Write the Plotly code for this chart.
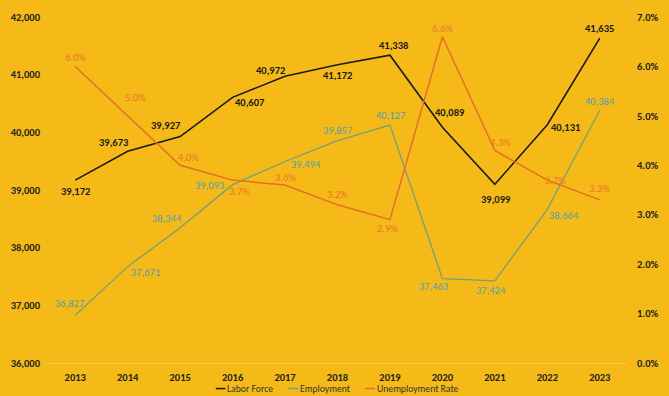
import plotly.graph_objects as go

years = [2013, 2014, 2015, 2016, 2017, 2018, 2019, 2020, 2021, 2022, 2023]
labor_force = [39172, 39673, 39927, 40607, 40972, 41172, 41338, 40089, 39099, 40131, 41635]
employment = [36827, 37671, 38344, 39093, 39494, 39857, 40127, 37463, 37424, 38664, 40384]
unemp_rate = [6.0, 5.0, 4.0, 3.7, 3.6, 3.2, 2.9, 6.6, 4.3, 3.7, 3.3]
series_names = ["Labor Force", "Employment", "Unemployment Rate"]

# label offsets (pixels): styling only
lf_off = [(0, -11), (-14, 9), (-14, 11), (17, -5), (-15, 6), (0, -11), (4, 10), (8, 15), (1, -15), (18, -3), (0, 10)]
em_off = [(-6, 12), (18, -6), (-13, 9), (-23, -1), (21, -3), (0, 10), (1, 10), (-9, -8), (-4, -10), (17, -6), (0, 9)]
ur_off = [(0, 9), (8, 18), (8, 8), (7, -11), (0, 8), (0, 10), (-2, -9), (0, 8), (6, 8), (8, 0), (0, 11)]

W, H = 669, 396
ML, MR, MT, MB = 41, 33, 11, 33
PW, PH = W - ML - MR, H - MT - MB

BG = "#F5BA18"
FONT = "Calibri, Carlito, Lato, sans-serif"
C_LF = "#1A1A1A"
C_EM_LINE = "#74A07A"
C_EM_TXT = "#52A0AC"
C_UR_LINE = "#E66E28"
C_UR_TXT = "#EC7428"
line_colors = [C_LF, C_EM_LINE, C_UR_LINE]

fig = go.Figure()
fig.add_trace(go.Scatter(x=years, y=labor_force, name=series_names[0], mode="lines",
                         line=dict(color=C_LF, width=1.6)))
fig.add_trace(go.Scatter(x=years, y=employment, name=series_names[1], mode="lines",
                         line=dict(color=C_EM_LINE, width=1.3)))
fig.add_trace(go.Scatter(x=years, y=[v / 100 for v in unemp_rate], name=series_names[2], mode="lines",
                         line=dict(color=C_UR_LINE, width=1.5), yaxis="y2"))

ann = []
for x, v, (dx, dy) in zip(years, labor_force, lf_off):
    ann.append(dict(x=x, y=v, xref="x", yref="y", text=f"{v:,}", showarrow=False,
                    xshift=dx, yshift=dy, font=dict(family=FONT, size=10.5, color=C_LF, weight="bold")))
for x, v, (dx, dy) in zip(years, employment, em_off):
    ann.append(dict(x=x, y=v, xref="x", yref="y", text=f"{v:,}", showarrow=False,
                    xshift=dx, yshift=dy, font=dict(family=FONT, size=10.5, color=C_EM_TXT)))
for x, v, (dx, dy) in zip(years, unemp_rate, ur_off):
    ann.append(dict(x=x, y=v / 100, xref="x", yref="y2", text=f"{v:.1f}%", showarrow=False,
                    xshift=dx, yshift=dy, font=dict(family=FONT, size=10.5, color=C_UR_TXT)))

# manual legend (pixel layout -> paper coords)
def px(xp):
    return (xp - ML) / PW

def py(yp):
    return (H - MB - yp) / PH

shapes = []
leg_y = 389
leg_x = [213, 288, 367]
for name, col, x0 in zip(series_names, line_colors, leg_x):
    shapes.append(dict(type="line", xref="paper", yref="paper", x0=px(x0), x1=px(x0 + 10),
                       y0=py(leg_y), y1=py(leg_y), line=dict(color=col, width=1.5)))
    ann.append(dict(x=px(x0 + 11), y=py(leg_y), xref="paper", yref="paper", text=name,
                    showarrow=False, xanchor="left", yanchor="middle", borderpad=0,
                    font=dict(family=FONT, size=9.7, color="#333333")))

fig.update_layout(
    width=W, height=H,
    margin=dict(l=ML, r=MR, t=MT, b=MB),
    paper_bgcolor=BG, plot_bgcolor=BG,
    font=dict(family=FONT, size=10.5, color="#222222"),
    showlegend=False,
    xaxis=dict(range=[2012.5, 2023.5], tickmode="array", tickvals=years, ticktext=[str(y) for y in years],
               showgrid=False, zeroline=False, showline=True, linecolor="#F8CC55", linewidth=1,
               ticks="", tickfont=dict(family=FONT, size=10.5, color="#222222", weight="bold"),
               ticklabelstandoff=4),
    yaxis=dict(range=[36000, 42000], tickvals=[36000, 37000, 38000, 39000, 40000, 41000, 42000],
               tickformat=",d", showgrid=False, zeroline=False, ticks="",
               tickfont=dict(family=FONT, size=10.5, color="#222222", weight="bold"),
               ticklabelstandoff=8),
    yaxis2=dict(range=[0, 0.07], tickvals=[0, 0.01, 0.02, 0.03, 0.04, 0.05, 0.06, 0.07],
                tickformat=".1%", overlaying="y", side="right", showgrid=False, zeroline=False,
                ticks="", tickfont=dict(family=FONT, size=10.5, color="#222222", weight="bold"),
                ticklabelstandoff=10),
    annotations=ann,
    shapes=shapes,
)

fig.write_html("out.html", config={"displayModeBar": False},
               post_script="document.body.style.margin='0';document.body.style.background='%s';" % BG)
